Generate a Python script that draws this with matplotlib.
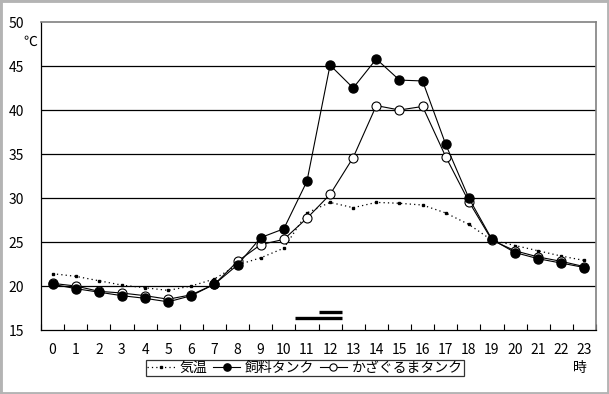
import numpy as np
import matplotlib
matplotlib.use("Agg")
import matplotlib.pyplot as plt
from matplotlib.patches import Rectangle

plt.rcParams['font.family'] = ['Noto Sans CJK JP', 'DejaVu Sans']

hours = list(range(24))
air = [21.4, 21.1, 20.6, 20.1, 19.8, 19.5, 20.0, 20.8, 22.4, 23.2, 24.3, 28.3,
       29.5, 28.9, 29.5, 29.4, 29.2, 28.3, 27.0, 25.2, 24.6, 24.0, 23.4, 22.9]
feed = [20.2, 19.7, 19.3, 18.9, 18.6, 18.2, 18.9, 20.2, 22.4, 25.5, 26.5, 31.9,
        45.1, 42.5, 45.8, 43.4, 43.3, 36.1, 30.0, 25.3, 23.8, 23.1, 22.6, 22.1]
kaza = [20.3, 20.0, 19.4, 19.2, 18.9, 18.5, 19.0, 20.2, 22.8, 24.7, 25.3, 27.7,
        30.4, 34.6, 40.5, 40.0, 40.4, 34.7, 29.6, 25.2, 24.0, 23.3, 22.8, 22.2]
names = ["気温", "飼料タンク", "かざぐるまタンク"]

# thick bars near the bottom (start, end, level)
bars = [(11.5, 12.5, 17.1), (10.5, 12.5, 16.4)]

W, H = 609, 394
fig = plt.figure(figsize=(W / 100, H / 100), dpi=100)
ax = fig.add_axes([41 / W, 1 - 330 / H, (596 - 41) / W, (330 - 22) / H])

for y in range(20, 50, 5):
    ax.axhline(y, color="black", lw=0.9, zorder=1)

ax.plot(hours, air, color="black", lw=0.9, linestyle=(0, (1, 2.5)),
        marker="s", markersize=2, zorder=2, label=names[0])
ax.plot(hours, kaza, color="black", lw=0.8, marker="o", markersize=6.5,
        markerfacecolor="white", markeredgecolor="black", markeredgewidth=0.8,
        zorder=3, label=names[2])
ax.plot(hours, feed, color="black", lw=0.8, marker="o", markersize=6.5,
        markerfacecolor="black", zorder=4, label=names[1])

for x0, x1, y in bars:
    ax.plot([x0, x1], [y, y], color="black", lw=2.4, solid_capstyle="butt", zorder=5)

ax.set_xlim(-0.5, 23.5)
ax.set_ylim(15, 50)
ax.set_xticks(hours)
ax.set_xticklabels([str(h) for h in hours], fontsize=10)
ax.set_xticks(np.arange(-0.5, 24, 1), minor=True)
ax.tick_params(axis="x", which="major", length=0, pad=9)
ax.tick_params(axis="x", which="minor", direction="in", length=4, width=0.8)
ax.set_yticks(range(15, 51, 5))
ax.set_yticklabels([str(v) for v in range(15, 51, 5)], fontsize=10)
ax.tick_params(axis="y", length=0, pad=12)

for s in ["top", "right"]:
    ax.spines[s].set_color("#808080")
    ax.spines[s].set_linewidth(1.2)
for s in ["left", "bottom"]:
    ax.spines[s].set_color("black")
    ax.spines[s].set_linewidth(0.9)

fig.text(30 / W, 1 - 42 / H, "℃", fontsize=10, ha="center", va="center")
fig.text(580 / W, 1 - 368 / H, "時", fontsize=10, ha="center", va="center")

h, l = ax.get_legend_handles_labels()
order = [0, 2, 1]
leg = fig.legend([h[i] for i in order], [l[i] for i in order],
                 loc="center", bbox_to_anchor=(305 / W, 1 - 368 / H), ncol=3,
                 fontsize=10, frameon=True, fancybox=False, edgecolor="black",
                 borderpad=0.1, handlelength=2.0, handletextpad=0.3,
                 columnspacing=0.4, borderaxespad=0, markerscale=0.8)
leg.get_frame().set_linewidth(0.9)

fig.patches.append(Rectangle((0, 0), 1, 1, transform=fig.transFigure,
                             fill=False, edgecolor="#b4b4b4", lw=3.5, zorder=10))

fig.savefig("out.png", dpi=100)
